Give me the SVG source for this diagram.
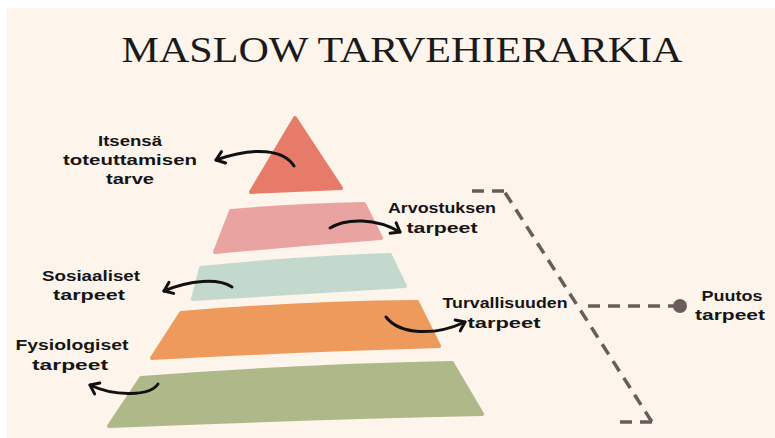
<svg xmlns="http://www.w3.org/2000/svg" width="775" height="438" viewBox="0 0 775 438">
  <defs>
    <marker id="ah" markerUnits="userSpaceOnUse" markerWidth="16" markerHeight="16" refX="12" refY="8" orient="auto">
      <path d="M4,2 L12,8 L4,14" fill="none" stroke="#111" stroke-width="3" stroke-linecap="round" stroke-linejoin="round"/>
    </marker>
    <style>
      .lbl { font-family: "Liberation Sans", "DejaVu Sans", sans-serif; font-size: 15px; font-weight: bold; fill: #151515; text-anchor: middle; }
      .title { font-family: "Liberation Serif", "DejaVu Serif", serif; font-size: 36px; fill: #1a1a1a; text-anchor: middle; }
      .arrow { fill: none; stroke: #111; stroke-width: 3; stroke-linecap: round; }
      .dash { fill: none; stroke: #6B5B5B; stroke-width: 3.5; stroke-dasharray: 12 8; }
      .lvl { stroke-linejoin: round; stroke-width: 4; }
    </style>
  </defs>
  <rect x="0" y="0" width="775" height="438" fill="#ffffff"/>
  <rect x="7" y="8" width="768" height="430" fill="#FDF4EC"/>
  <text class="title" x="402" y="62" textLength="561" lengthAdjust="spacingAndGlyphs">MASLOW TARVEHIERARKIA</text>

  <g id="level-5">
    <path class="lvl" d="M295,118 L341,188 Q296,190 251,192 Z" fill="#E77B69" stroke="#E77B69"/>
  </g>
  <g id="level-4">
    <path class="lvl" d="M231,211 Q300,205 364,204 L381,238 Q300,244 215,252 Z" fill="#E9A4A2" stroke="#E9A4A2"/>
  </g>
  <g id="level-3">
    <path class="lvl" d="M201,268 Q300,258 390,255 L405,286 Q300,292 193,299 Z" fill="#C4D9CD" stroke="#C4D9CD"/>
  </g>
  <g id="level-2">
    <path class="lvl" d="M181,313 Q300,303 417,302 L439,346 Q300,350 152,358 Z" fill="#EE9A5C" stroke="#EE9A5C"/>
  </g>
  <g id="level-1">
    <path class="lvl" d="M141,378 Q300,366 452,363 L482,414 Q300,418 109,426 Z" fill="#AEB888" stroke="#AEB888"/>
  </g>

  <g id="connectors">
    <path class="arrow" d="M294,166 C284,150 255,146 216,160" marker-end="url(#ah)"/>
    <path class="arrow" d="M330,228 C346,218 376,218 400,232" marker-end="url(#ah)"/>
    <path class="arrow" d="M232,287 C218,278 190,280 164,291" marker-end="url(#ah)"/>
    <path class="arrow" d="M158,384 C150,396 115,397 90,385" marker-end="url(#ah)"/>
    <path class="arrow" d="M386,317 C400,335 435,336 465,322" marker-end="url(#ah)"/>
    <path class="dash" d="M472,191 L504,191" stroke-dasharray="14 6"/>
    <path class="dash" d="M504,191 L652,422" stroke-dashoffset="-2"/>
    <path class="dash" d="M652,422 L617,422" stroke-dasharray="14 7"/>
    <path class="dash" d="M588,306 L675,306"/>
    <circle cx="680" cy="306" r="7" fill="#6B5B5B"/>
  </g>

  <g id="label-itsensa">
    <text class="lbl" x="130" y="146" textLength="64" lengthAdjust="spacingAndGlyphs">Itsensä</text>
    <text class="lbl" x="130" y="165" textLength="134" lengthAdjust="spacingAndGlyphs">toteuttamisen</text>
    <text class="lbl" x="130" y="184" textLength="48" lengthAdjust="spacingAndGlyphs">tarve</text>
  </g>
  <g id="label-arvostuksen">
    <text class="lbl" x="442" y="213" textLength="108" lengthAdjust="spacingAndGlyphs">Arvostuksen</text>
    <text class="lbl" x="442" y="233" textLength="71" lengthAdjust="spacingAndGlyphs">tarpeet</text>
  </g>
  <g id="label-sosiaaliset">
    <text class="lbl" x="91" y="281" textLength="98" lengthAdjust="spacingAndGlyphs">Sosiaaliset</text>
    <text class="lbl" x="89" y="300" textLength="72" lengthAdjust="spacingAndGlyphs">tarpeet</text>
  </g>
  <g id="label-fysiologiset">
    <text class="lbl" x="72" y="350" textLength="113" lengthAdjust="spacingAndGlyphs">Fysiologiset</text>
    <text class="lbl" x="70" y="370" textLength="76" lengthAdjust="spacingAndGlyphs">tarpeet</text>
  </g>
  <g id="label-turvallisuuden">
    <text class="lbl" x="505" y="308" textLength="125" lengthAdjust="spacingAndGlyphs">Turvallisuuden</text>
    <text class="lbl" x="504" y="328" textLength="73" lengthAdjust="spacingAndGlyphs">tarpeet</text>
  </g>
  <g id="label-puutos">
    <text class="lbl" x="732" y="301" textLength="61" lengthAdjust="spacingAndGlyphs">Puutos</text>
    <text class="lbl" x="730" y="320" textLength="70" lengthAdjust="spacingAndGlyphs">tarpeet</text>
  </g>
</svg>
